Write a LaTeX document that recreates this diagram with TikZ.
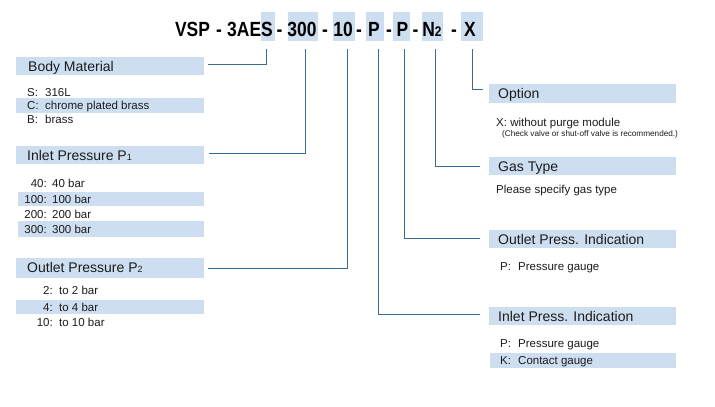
\documentclass[tikz,border=0pt]{standalone}
\usepackage{fontspec}
\setmainfont{Liberation Sans}
\newfontfamily\hdrfont[FakeStretch=0.85]{Liberation Sans}
\definecolor{boxblue}{RGB}{205,222,240}
\definecolor{linkblue}{RGB}{58,106,150}
\definecolor{txt}{RGB}{28,28,28}
\newcommand{\subd}[1]{{\fontsize{9}{9}\selectfont #1}}
\newcommand{\hsub}[1]{{\fontsize{14}{14}\selectfont #1}}
\begin{document}
\begin{tikzpicture}[x=1pt,y=-1pt,
  hl/.style={fill=boxblue, draw=none, inner sep=0pt, outer sep=0pt},
  hdr/.style={inner sep=0pt, anchor=base, font=\hdrfont\bfseries\fontsize{20.5}{20.5}\selectfont, text=black},
  head/.style={inner sep=0pt, anchor=base west, font=\fontsize{14}{14}\selectfont, text=txt},
  item/.style={inner sep=0pt, anchor=base west, font=\fontsize{11.5}{11.5}\selectfont, text=txt},
  itemr/.style={inner sep=0pt, anchor=base east, font=\fontsize{11.5}{11.5}\selectfont, text=txt},
  note/.style={inner sep=0pt, anchor=base west, font=\fontsize{8.2}{8.2}\selectfont, text=txt},
  conn/.style={draw=linkblue, line width=1pt}]
\useasboundingbox (0,0) rectangle (715,407);
\fill[white] (0,0) rectangle (715,407);

% ---- header highlight boxes
\node[hl, minimum width=14pt, minimum height=29pt] (hS)   at (268,26.5) {};
\node[hl, minimum width=30pt, minimum height=29pt] (h300) at (303,26.5) {};
\node[hl, minimum width=22pt, minimum height=29pt] (h10)  at (344,26.5) {};
\node[hl, minimum width=18pt, minimum height=29pt] (hPa)  at (375,26.5) {};
\node[hl, minimum width=17pt, minimum height=29pt] (hPb)  at (401.5,26.5) {};
\node[hl, minimum width=21pt, minimum height=29pt] (hN)   at (432.5,26.5) {};
\node[hl, minimum width=22pt, minimum height=29pt] (hX)   at (472,26.5) {};

% ---- header text
\node[hdr] (tVSP) at (192.5,36) {VSP};
\node[hdr] (d1) at (219,36) {-};
\node[hdr] (t3AES) at (250,36) {3AES};
\node[hdr] (d2) at (279.5,36) {-};
\node[hdr] (t300) at (302,36) {300};
\node[hdr] (d3) at (325,36) {-};
\node[hdr] (t10) at (343,36) {10};
\node[hdr] (d4) at (359,36) {-};
\node[hdr] (tPa) at (374,36) {P};
\node[hdr] (d5) at (389,36) {-};
\node[hdr] (tPb) at (402.5,36) {P};
\node[hdr] (d6) at (415.5,36) {-};
\node[hdr] (tN) at (432,36) {N\hsub{2}};
\node[hdr] (d7) at (454,36) {-};
\node[hdr] (tX) at (470,36) {X};

% ---- left section boxes
\node[hl, minimum width=188pt, minimum height=18pt] (bm) at (110,66) {};
\node[hl, minimum width=188pt, minimum height=15pt] (bmC) at (110,105.5) {};
\node[hl, minimum width=188pt, minimum height=18pt] (ip) at (110,155) {};
\node[hl, minimum width=186pt, minimum height=14pt] (ip100) at (111,199) {};
\node[hl, minimum width=186pt, minimum height=16pt] (ip300) at (111,229) {};
\node[hl, minimum width=188pt, minimum height=20pt] (op) at (110,267.5) {};
\node[hl, minimum width=188pt, minimum height=14pt] (op4) at (110,307) {};

\node[head] (lbm) at (28,71) {Body Material};
\node[item] (s1) at (27,96) {S:};   \node[item] (s1v) at (45,96) {316L};
\node[item] (s2) at (27,109.5) {C:}; \node[item] (s2v) at (45,109.5) {chrome plated brass};
\node[item] (s3) at (27,123) {B:};  \node[item] (s3v) at (45,123) {brass};

\node[head] (lip) at (27,160) {Inlet Pressure P\subd{1}};
\node[itemr] (i1) at (47,187) {40:};  \node[item] (i1v) at (52,187) {40 bar};
\node[itemr] (i2) at (47,203) {100:}; \node[item] (i2v) at (52,203) {100 bar};
\node[itemr] (i3) at (47,218) {200:}; \node[item] (i3v) at (52,218) {200 bar};
\node[itemr] (i4) at (47,233) {300:}; \node[item] (i4v) at (52,233) {300 bar};

\node[head] (lop) at (27,272.5) {Outlet Pressure P\subd{2}};
\node[itemr] (o1) at (53,294) {2:};  \node[item] (o1v) at (59,294) {to 2 bar};
\node[itemr] (o2) at (53,311) {4:};  \node[item] (o2v) at (59,311) {to 4 bar};
\node[itemr] (o3) at (53,326) {10:}; \node[item] (o3v) at (59,326) {to 10 bar};

% ---- right section boxes
\node[hl, minimum width=187pt, minimum height=19pt] (opt) at (582.5,93.5) {};
\node[hl, minimum width=187pt, minimum height=18pt] (gas) at (582.5,166) {};
\node[hl, minimum width=187pt, minimum height=18pt] (opi) at (582.5,239) {};
\node[hl, minimum width=187pt, minimum height=18pt] (ipi) at (582.5,316) {};
\node[hl, minimum width=186pt, minimum height=15pt] (ipiK) at (583,360.5) {};

\node[head] (lopt) at (498,98.5) {Option};
\node[item] (x1) at (496,126.5) {X: without purge module};
\node[note] (x2) at (502,136) {(Check valve or shut-off valve is recommended.)};

\node[head] (lgas) at (498,171) {Gas Type};
\node[item] (g1) at (496,193) {Please specify gas type};

\node[head] (lopi) at (498,244) {Outlet Press. Indication};
\node[item] (p1) at (500,270) {P:}; \node[item] (p1v) at (518,270) {Pressure gauge};

\node[head] (lipi) at (498,321) {Inlet Press. Indication};
\node[item] (p2) at (500,347) {P:}; \node[item] (p2v) at (518,347) {Pressure gauge};
\node[item] (k2) at (500,364.5) {K:}; \node[item] (k2v) at (518,364.5) {Contact gauge};

% ---- connector end points
\coordinate (tS) at (266,49);   \coordinate (eBM) at (208,64);
\coordinate (t300) at (305,49); \coordinate (eIP) at (209,153);
\coordinate (t10) at (347,49);  \coordinate (eOP) at (208,268);
\coordinate (tPa) at (378,49);  \coordinate (eIPI) at (480,314);
\coordinate (tPb) at (404,49);  \coordinate (eOPI) at (480,238);
\coordinate (tN) at (435,49);   \coordinate (eGAS) at (480,166);
\coordinate (tX) at (472,49);   \coordinate (eOPT) at (483,89);

\draw[conn] (tS) |- (eBM);
\draw[conn] (t300) |- (eIP);
\draw[conn] (t10) |- (eOP);
\draw[conn] (tPa) |- (eIPI);
\draw[conn] (tPb) |- (eOPI);
\draw[conn] (tN) |- (eGAS);
\draw[conn] (tX) |- (eOPT);
\end{tikzpicture}
\end{document}
